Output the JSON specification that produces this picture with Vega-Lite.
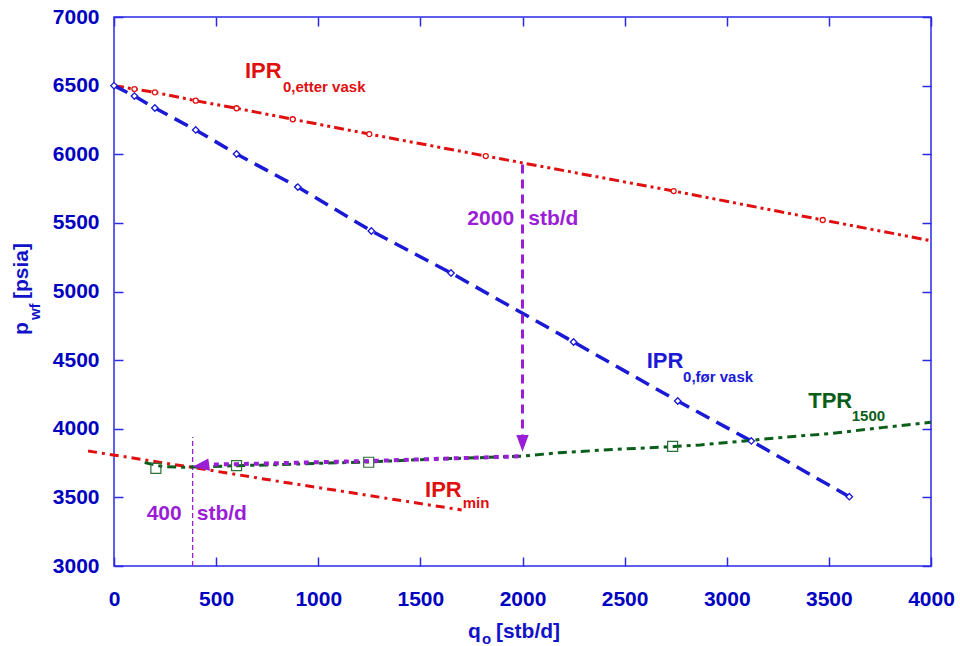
{
  "$schema": "https://vega.github.io/schema/vega-lite/v6.json",
  "width": 817,
  "height": 549,
  "autosize": {"type": "none"},
  "padding": {"left": 114, "top": 17, "right": 29, "bottom": 80},
  "background": "white",
  "config": {
    "view": {"stroke": "#2a2ae6", "strokeWidth": 1.5},
    "font": "Liberation Sans"
  },
  "datasets": {
    "etter": [
      {"q": 0, "p": 6500}, {"q": 100, "p": 6475}, {"q": 200, "p": 6451}, {"q": 400, "p": 6390},
      {"q": 600, "p": 6335}, {"q": 875, "p": 6255}, {"q": 1250, "p": 6147}, {"q": 1820, "p": 5987},
      {"q": 2740, "p": 5732}, {"q": 3470, "p": 5521}, {"q": 4000, "p": 5370}
    ],
    "foer": [
      {"q": 0, "p": 6500}, {"q": 100, "p": 6424}, {"q": 200, "p": 6337}, {"q": 400, "p": 6177},
      {"q": 600, "p": 6002}, {"q": 900, "p": 5761}, {"q": 1260, "p": 5441}, {"q": 1650, "p": 5135},
      {"q": 2250, "p": 4632}, {"q": 2760, "p": 4202}, {"q": 3120, "p": 3911}, {"q": 3600, "p": 3505}
    ],
    "tpr": [
      {"q": 150, "p": 3753}, {"q": 240, "p": 3724}, {"q": 330, "p": 3719}, {"q": 470, "p": 3724},
      {"q": 600, "p": 3731}, {"q": 750, "p": 3736}, {"q": 1000, "p": 3748}, {"q": 1250, "p": 3758},
      {"q": 1500, "p": 3775}, {"q": 2000, "p": 3800}, {"q": 2180, "p": 3826}, {"q": 2460, "p": 3850},
      {"q": 2740, "p": 3870}, {"q": 2870, "p": 3882}, {"q": 3115, "p": 3915}, {"q": 3280, "p": 3938},
      {"q": 3520, "p": 3967}, {"q": 3770, "p": 4010}, {"q": 4000, "p": 4047}
    ],
    "tprpts": [
      {"q": 205, "p": 3712}, {"q": 600, "p": 3731}, {"q": 1247, "p": 3756}, {"q": 2735, "p": 3872}
    ],
    "iprmin": [
      {"q": -127, "p": 3838}, {"q": 385, "p": 3718}, {"q": 813, "p": 3615}, {"q": 1702, "p": 3408}
    ],
    "varrow": [{"q": 2000, "p": 5925}, {"q": 2000, "p": 3900}],
    "harrow": [{"q": 2000, "p": 3800}, {"q": 1250, "p": 3765}, {"q": 600, "p": 3742}, {"q": 440, "p": 3738}],
    "vhead": [{"q": 2000, "p": 3894}],
    "hhead": [{"q": 428, "p": 3739}],
    "vline": [{"q": 385, "p": 3000}, {"q": 385, "p": 3940}],
    "labels": [
      {"q": 641, "p": 6556, "txt": "IPR", "series": "etter", "role": "label"},
      {"q": 827, "p": 6457, "txt": "0,etter vask", "series": "etter", "role": "sub"},
      {"q": 2608, "p": 4440, "txt": "IPR", "series": "foer", "role": "label"},
      {"q": 2786, "p": 4344, "txt": "0,før vask", "series": "foer", "role": "sub"},
      {"q": 3399, "p": 4149, "txt": "TPR", "series": "tpr", "role": "label"},
      {"q": 3612, "p": 4060, "txt": "1500", "series": "tpr", "role": "sub"},
      {"q": 1523, "p": 3505, "txt": "IPR", "series": "min", "role": "label"},
      {"q": 1707, "p": 3423, "txt": "min", "series": "min", "role": "sub"},
      {"q": 1730, "p": 5485, "txt": "2000", "series": "arrow", "role": "annot"},
      {"q": 2028, "p": 5485, "txt": "stb/d", "series": "arrow", "role": "annot"},
      {"q": 160, "p": 3335, "txt": "400", "series": "arrow", "role": "annot"},
      {"q": 405, "p": 3335, "txt": "stb/d", "series": "arrow", "role": "annot"},
      {"q": 1733, "p": 2475, "txt": "q", "series": "axis", "role": "annot"},
      {"q": 1802, "p": 2432, "txt": "o", "series": "axis", "role": "sub"},
      {"q": 1870, "p": 2475, "txt": "[stb/d]", "series": "axis", "role": "annot"}
    ],
    "ytitle": [
      {"q": -421, "p": 4683, "txt": "p", "series": "axis", "role": "annot"},
      {"q": -362, "p": 4792, "txt": "wf", "series": "axis", "role": "sub"},
      {"q": -421, "p": 4945, "txt": "[psia]", "series": "axis", "role": "annot"}
    ]
  },
  "layer": [
    {
      "encoding": {
        "x": {
          "field": "q", "type": "quantitative",
          "scale": {"domain": [0, 4000], "nice": false, "zero": false},
          "axis": {
            "orient": "bottom", "values": [0, 500, 1000, 1500, 2000, 2500, 3000, 3500, 4000], "format": "d",
            "title": null, "grid": false, "domain": false,
            "labelFont": "Liberation Sans", "labelFontSize": 21, "labelFontWeight": "bold", "labelColor": "#0000c0",
            "tickColor": "#2a2ae6", "tickSize": -9, "tickWidth": 1.5, "labelPadding": 31, "labelFlush": false, "labelOverlap": false
          }
        },
        "y": {
          "field": "p", "type": "quantitative",
          "scale": {"domain": [3000, 7000], "nice": false, "zero": false},
          "axis": {
            "orient": "left", "values": [3000, 3500, 4000, 4500, 5000, 5500, 6000, 6500, 7000], "format": "d",
            "title": null, "grid": false, "domain": false,
            "labelFont": "Liberation Sans", "labelFontSize": 21, "labelFontWeight": "bold", "labelColor": "#0000c0",
            "tickColor": "#2a2ae6", "tickSize": -9, "tickWidth": 1.5, "labelPadding": 24, "labelFlush": false, "labelOverlap": false
          }
        },
        "color": {"field": "series", "type": "nominal", "legend": null,
          "scale": {"domain": ["etter", "foer", "tpr", "min", "arrow", "axis"], "range": ["#e01010", "#1a1ad6", "#0b5e1a", "#e01010", "#9a1ed6", "#1212c8"]}}
      },
      "layer": [
        {"data": {"name": "vline"}, "mark": {"type": "line", "color": "#9a1ed6", "strokeWidth": 1.3, "strokeDash": [5, 3], "clip": false}, "encoding": {"color": {"value": "#9a1ed6"}}},
        {"data": {"name": "etter"}, "mark": {"type": "line", "strokeWidth": 3, "strokeDash": [10, 4, 3, 4, 3, 4], "clip": false}, "encoding": {"color": {"value": "#e01010"}}},
        {"data": {"name": "foer"}, "mark": {"type": "line", "strokeWidth": 3.5, "strokeDash": [15, 8], "clip": false}, "encoding": {"color": {"value": "#1a1ad6"}}},
        {"data": {"name": "iprmin"}, "mark": {"type": "line", "strokeWidth": 3, "strokeDash": [9, 5, 3, 5], "clip": false}, "encoding": {"color": {"value": "#e01010"}}},
        {"data": {"name": "tpr"}, "mark": {"type": "line", "strokeWidth": 3, "strokeDash": [9, 5, 4, 5], "clip": false}, "encoding": {"color": {"value": "#0b5e1a"}}},
        {"data": {"name": "harrow"}, "mark": {"type": "line", "strokeWidth": 4, "strokeDash": [5, 5], "clip": false}, "encoding": {"color": {"value": "#9a1ed6"}}},
        {"data": {"name": "varrow"}, "mark": {"type": "line", "strokeWidth": 3, "strokeDash": [9, 6], "clip": false}, "encoding": {"color": {"value": "#9a1ed6"}}},
        {"data": {"name": "vhead"}, "mark": {"type": "point", "shape": "M-0.74,-1L0.74,-1L0,1Z", "size": 279, "filled": true, "opacity": 1, "clip": false}, "encoding": {"color": {"value": "#9a1ed6"}}},
        {"data": {"name": "hhead"}, "mark": {"type": "point", "shape": "M-1,0.25L0.79,-0.71L0.99,0.71Z", "size": 303, "filled": true, "opacity": 1, "clip": false}, "encoding": {"color": {"value": "#9a1ed6"}}},
        {"data": {"name": "etter"}, "transform": [{"filter": "datum.q > 0 && datum.q < 4000"}], "mark": {"type": "point", "shape": "circle", "size": 25, "filled": false, "fill": "white", "fillOpacity": 1, "strokeWidth": 1.3, "opacity": 1, "clip": false}, "encoding": {"color": {"value": "#e01010"}}},
        {"data": {"name": "foer"}, "mark": {"type": "point", "shape": "diamond", "size": 42, "filled": false, "fill": "white", "fillOpacity": 1, "strokeWidth": 1.3, "opacity": 1, "clip": false}, "encoding": {"color": {"value": "#1a1ad6"}}},
        {"data": {"name": "tprpts"}, "mark": {"type": "point", "shape": "square", "size": 100, "filled": false, "strokeWidth": 1.2, "opacity": 1, "clip": false}, "encoding": {"color": {"value": "#2f6e3a"}}},
        {
          "data": {"name": "labels"},
          "transform": [{"filter": "datum.role === 'label'"}],
          "mark": {"type": "text", "align": "left", "baseline": "alphabetic", "font": "Liberation Sans", "fontWeight": "bold", "fontSize": 22, "clip": false},
          "encoding": {"text": {"field": "txt"}}
        },
        {
          "data": {"name": "labels"},
          "transform": [{"filter": "datum.role === 'sub'"}],
          "mark": {"type": "text", "align": "left", "baseline": "alphabetic", "font": "Liberation Sans", "fontWeight": "bold", "fontSize": 15, "clip": false},
          "encoding": {"text": {"field": "txt"}}
        },
        {
          "data": {"name": "labels"},
          "transform": [{"filter": "datum.role === 'annot'"}],
          "mark": {"type": "text", "align": "left", "baseline": "alphabetic", "font": "Liberation Sans", "fontWeight": "bold", "fontSize": 21, "clip": false},
          "encoding": {"text": {"field": "txt"}}
        },
        {
          "data": {"name": "ytitle"},
          "transform": [{"filter": "datum.role === 'annot'"}],
          "mark": {"type": "text", "align": "left", "baseline": "alphabetic", "angle": 270, "font": "Liberation Sans", "fontWeight": "bold", "fontSize": 21, "clip": false},
          "encoding": {"text": {"field": "txt"}}
        },
        {
          "data": {"name": "ytitle"},
          "transform": [{"filter": "datum.role === 'sub'"}],
          "mark": {"type": "text", "align": "left", "baseline": "alphabetic", "angle": 270, "font": "Liberation Sans", "fontWeight": "bold", "fontSize": 15, "clip": false},
          "encoding": {"text": {"field": "txt"}}
        }
      ]
    },
    {
      "data": {"name": "etter"},
      "mark": {"type": "point", "opacity": 0},
      "encoding": {
        "x": {
          "field": "q", "type": "quantitative",
          "scale": {"domain": [0, 4000], "nice": false, "zero": false},
          "axis": {"orient": "top", "values": [0, 500, 1000, 1500, 2000, 2500, 3000, 3500, 4000], "labels": false, "title": null, "grid": false, "domain": false, "tickColor": "#2a2ae6", "tickSize": -9, "tickWidth": 1.5}
        },
        "y": {
          "field": "p", "type": "quantitative",
          "scale": {"domain": [3000, 7000], "nice": false, "zero": false},
          "axis": {"orient": "right", "values": [3000, 3500, 4000, 4500, 5000, 5500, 6000, 6500, 7000], "labels": false, "title": null, "grid": false, "domain": false, "tickColor": "#2a2ae6", "tickSize": -9, "tickWidth": 1.5}
        }
      }
    }
  ],
  "resolve": {"axis": {"x": "independent", "y": "independent"}}
}
